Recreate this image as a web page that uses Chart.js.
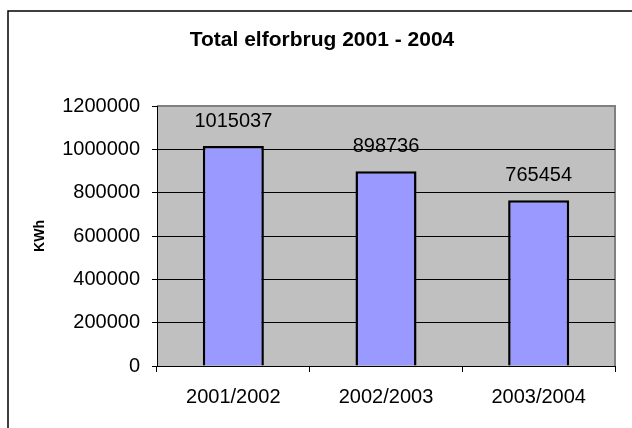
<!DOCTYPE html>
<html>
<head>
<meta charset="utf-8">
<script src="https://cdn.jsdelivr.net/npm/chart.js@4"></script>
<style>
  html, body { margin: 0; padding: 0; background: #fff; }
  #wrap { width: 632px; height: 428px; }
</style>
</head>
<body>
<div id="wrap"><canvas id="myChart" width="632" height="428"></canvas></div>
<script>
const titleText = 'Total elforbrug 2001 - 2004';
const yTitle = 'KWh';
const years = ['2001/2002', '2002/2003', '2003/2004'];
const kwh = [1015037, 898736, 765454];
const yTicks = [0, 200000, 400000, 600000, 800000, 1000000, 1200000];

const font = 'Arial, "Liberation Sans", sans-serif';

// grey plot area, outer frame, title and bar labels
const decor = {
  id: 'decor',
  beforeDraw(chart) {
    const c = chart.ctx, a = chart.chartArea;
    c.save();
    c.fillStyle = '#fff';
    c.fillRect(0, 0, chart.width, chart.height);
    c.strokeStyle = '#000';
    c.lineWidth = 1.5;
    c.strokeRect(8, 11, 700, 500);
    c.fillStyle = '#c0c0c0';
    c.fillRect(a.left, a.top, a.right - a.left, a.bottom - a.top);
    c.strokeStyle = '#808080';
    c.lineWidth = 2;
    c.beginPath();
    c.moveTo(a.left, a.top);
    c.lineTo(a.right, a.top);
    c.lineTo(a.right, a.bottom);
    c.stroke();
    c.fillStyle = '#000';
    c.font = 'bold 21px ' + font;
    c.textAlign = 'center';
    c.textBaseline = 'middle';
    c.fillText(titleText, 322, 40);
    c.restore();
  },
  afterDatasetsDraw(chart) {
    const c = chart.ctx;
    c.save();
    c.fillStyle = '#000';
    c.font = '20px ' + font;
    c.textAlign = 'center';
    c.textBaseline = 'middle';
    chart.getDatasetMeta(0).data.forEach((bar, i) => {
      c.fillText(String(kwh[i]), bar.x, bar.y - 25);
    });
    c.restore();
  }
};

new Chart(document.getElementById('myChart'), {
  type: 'bar',
  data: {
    labels: years,
    datasets: [{
      data: kwh,
      backgroundColor: '#9999ff',
      borderColor: '#000',
      borderWidth: 2.5,
      barPercentage: 0.4,
      categoryPercentage: 1
    }]
  },
  options: {
    responsive: false,
    animation: false,
    layout: { padding: { left: 8, top: 106, right: 17, bottom: 0 } },
    plugins: {
      legend: { display: false },
      title: { display: false },
      tooltip: { enabled: false }
    },
    scales: {
      x: {
        offset: true,
        grid: { offset: true, drawOnChartArea: false, color: '#000', tickLength: 6, tickColor: '#000' },
        border: { color: '#000', width: 1 },
        ticks: { color: '#000', font: { size: 20, family: font }, padding: 13 },
        afterFit(s) { s.height = 62; }
      },
      y: {
        min: 0,
        max: 1200000,
        afterBuildTicks(s) { s.ticks = yTicks.map(v => ({ value: v })); },
        grid: {
          color: ctx => (ctx.tick && ctx.tick.value === 1200000) ? 'rgba(0,0,0,0)' : '#000',
          tickColor: '#000',
          tickLength: 5,
          lineWidth: 1
        },
        border: { color: '#000', width: 1 },
        ticks: { color: '#000', font: { size: 20, family: font }, padding: 12, callback: v => String(v) },
        title: {
          display: true,
          text: yTitle,
          color: '#000',
          font: { size: 14, weight: 'bold', family: font },
          padding: { top: 24, bottom: 0 }
        },
        afterFit(s) { s.width = 149; }
      }
    }
  },
  plugins: [decor]
});
</script>
</body>
</html>
